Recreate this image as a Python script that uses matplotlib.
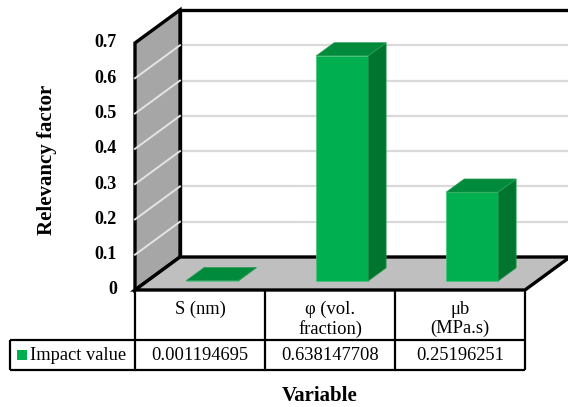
import numpy as np
import matplotlib.pyplot as plt
from matplotlib.patches import Polygon, Rectangle

plt.rcParams["font.family"] = ["Liberation Serif", "DejaVu Serif"]

categories = ["S (nm)", "φ (vol.\nfraction)", "μb\n(MPa.s)"]
values = [0.001194695, 0.638147708, 0.25196251]
value_labels = ["0.001194695", "0.638147708", "0.25196251"]
series_name = "Impact value"
y_ticks = [0, 0.1, 0.2, 0.3, 0.4, 0.5, 0.6, 0.7]
y_tick_labels = ["0", "0.1", "0.2", "0.3", "0.4", "0.5", "0.6", "0.7"]

Y_MAX = 0.7
# depth offset of the back plane, in category / value units
DX = 45 / 130
DY = 33 / 352.9
BAR_W = 0.4
D0, D1 = 0.27, 0.67

FRONT = "#00B050"
SIDE = "#00752F"
TOP = "#008A3C"


def proj(x, y, d):
    return (x + d * DX, y + d * DY)


def poly(ax, pts, fc, ec="none", lw=0, z=1):
    ax.add_patch(Polygon([proj(*p) for p in pts], closed=True, facecolor=fc,
                         edgecolor=ec, linewidth=lw, zorder=z, joinstyle="miter"))


fig = plt.figure(figsize=(5.68, 4.07), dpi=100)
ax = fig.add_axes([0, 0, 1, 1])
ax.set_xlim(-135 / 130, 433 / 130)
ax.set_ylim(-117 / 352.9, 290 / 352.9)
ax.axis("off")

n = len(categories)

# back wall
poly(ax, [(0, 0, 1), (n, 0, 1), (n, Y_MAX, 1), (0, Y_MAX, 1)], "white", z=1)
for v in y_ticks[1:-1]:
    ax.plot(*zip(proj(0, v, 1), proj(n, v, 1)), color="#D9D9D9", lw=1.6, zorder=2)
ax.plot(*zip(proj(0, 0, 1), proj(0, Y_MAX, 1), proj(n, Y_MAX, 1)),
        color="black", lw=2.4, zorder=3, solid_joinstyle="miter")

# side wall
poly(ax, [(0, 0, 0), (0, Y_MAX, 0), (0, Y_MAX, 1), (0, 0, 1)], "#A6A6A6",
     ec="black", lw=2.4, z=4)
for v in y_ticks[1:-1]:
    ax.plot(*zip(proj(0, v, 0), proj(0, v, 1)), color="#E4E4E4", lw=1.4, zorder=5)

# floor
poly(ax, [(0, 0, 0), (n, 0, 0), (n, 0, 1), (0, 0, 1)], "#BFBFBF",
     ec="black", lw=2.4, z=4)

# bars
for i, v in enumerate(values):
    x0 = i + 0.5 - BAR_W / 2
    x1 = i + 0.5 + BAR_W / 2
    z = 6 + i
    poly(ax, [(x0, 0, D0), (x1, 0, D0), (x1, v, D0), (x0, v, D0)], FRONT, ec="#3CC878", lw=0.5, z=z)
    poly(ax, [(x1, 0, D0), (x1, 0, D1), (x1, v, D1), (x1, v, D0)], SIDE, ec="#2E9E55", lw=0.5, z=z)
    poly(ax, [(x0, v, D0), (x1, v, D0), (x1, v, D1), (x0, v, D1)], TOP, ec="#2E9E55", lw=0.5, z=z)

# value axis labels
for t, lab in zip(y_ticks, y_tick_labels):
    ax.text(-18 / 130, t, lab, ha="right", va="center", fontsize=13,
            fontweight="bold", zorder=10)
ax.text(-88 / 130, 0.37, "Relevancy factor", rotation=90, ha="center", va="center",
        fontsize=15, fontweight="bold")

# data table
px = 1 / 352.9
row1 = -50 * px
row2 = -80 * px
left = -125 / 130
tl = dict(color="black", lw=1.6, zorder=10, solid_capstyle="butt")
for i in range(n + 1):
    ax.plot([i, i], [0, row2], **tl)
ax.plot([left, n], [row1, row1], **tl)
ax.plot([left, n], [row2, row2], **tl)
ax.plot([left, left], [row1, row2], **tl)

for i, (cat, lab) in enumerate(zip(categories, value_labels)):
    ax.text(i + 0.5, -11 * px, cat, ha="center", va="top", fontsize=13.3, linespacing=1.15)
    ax.text(i + 0.5, (row1 + row2) / 2, lab, ha="center", va="center", fontsize=13.3)

ax.add_patch(Rectangle((-118 / 130, -70 * px), 10 / 130, 10 * px,
                       facecolor=FRONT, edgecolor="none", zorder=11))
ax.text(-105 / 130, (row1 + row2) / 2, series_name, ha="left", va="center", fontsize=13.3)

ax.text(185 / 130, -106 * px, "Variable", ha="center", va="center",
        fontsize=15, fontweight="bold")

fig.savefig("out.png", dpi=100)
